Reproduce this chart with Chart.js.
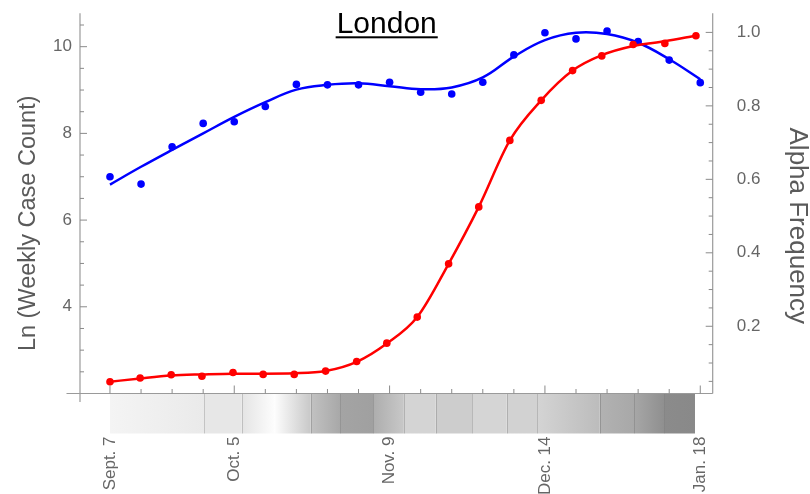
<!DOCTYPE html>
<html>
<head>
<meta charset="utf-8">
<script src="https://cdn.jsdelivr.net/npm/chart.js@4.4.1/dist/chart.umd.min.js"></script>
<style>
  html, body { margin: 0; padding: 0; background: #ffffff; }
  #wrap { width: 810px; height: 494px; position: relative; }
</style>
</head>
<body>
<div id="wrap"><canvas id="chart" width="810" height="494"></canvas></div>
<script>
// Week index: 0 = Sept. 7
const weeks = [0, 1, 2, 3, 4, 5, 6, 7, 8, 9, 10, 11, 12, 13, 14, 15, 16, 17, 18, 19];
// ln(weekly case count), observed and smoothed
const caseLog = [7.00, 6.83, 7.69, 8.23, 8.27, 8.62, 9.13, 9.12, 9.12, 9.18, 8.95, 8.91, 9.18, 9.81, 10.32, 10.18, 10.36, 10.12, 9.69, 9.17];
const caseFit = [6.82, 7.23, 7.62, 8.00, 8.38, 8.72, 9.01, 9.12, 9.155, 9.09, 9.02, 9.06, 9.29, 9.77, 10.15, 10.32, 10.29, 10.09, 9.71, 9.25];
// Alpha variant frequency, observed and fitted
const alphaWeeks = [0, 0.97, 1.97, 2.96, 3.96, 4.93, 5.93, 6.94, 7.94, 8.91, 9.89, 10.9, 11.87, 12.87, 13.88, 14.89, 15.83, 16.84, 17.86, 18.86];
const alphaFreq = [0.049, 0.059, 0.068, 0.064, 0.074, 0.069, 0.069, 0.078, 0.104, 0.154, 0.225, 0.370, 0.525, 0.706, 0.815, 0.896, 0.936, 0.967, 0.970, 0.991];
const alphaFit  = [0.049, 0.058, 0.066, 0.069, 0.071, 0.071, 0.072, 0.078, 0.103, 0.153, 0.225, 0.370, 0.525, 0.706, 0.815, 0.896, 0.938, 0.963, 0.976, 0.991];
// Date ticks
const tickWeeks = [0, 4, 9, 14, 19];
const tickLabels = ['Sept. 7', 'Oct. 5', 'Nov. 9', 'Dec. 14', 'Jan. 18'];
const caseTicks = [4, 6, 8, 10];
const freqTicks = [0.2, 0.4, 0.6, 0.8, 1.0];
// Shaded band under the date axis: segment edges (weeks) and grey levels at each segment's ends
const stripEdges = [0, 3.03, 4.24, 5.3, 6.46, 7.41, 8.47, 9.46, 10.48, 11.66, 12.77, 13.75, 15.76, 16.87, 17.84, 18.83];
const stripFrom  = [244, 231, 228, 253, 194, 164, 173, 212, 205, 213, 210, 212, 178, 167, 139];
const stripTo    = [234, 231, 253, 200, 168, 160, 200, 212, 205, 213, 210, 188, 168, 143, 137];
const stripDividers = [3.03, 4.24, 6.46, 7.41, 8.47, 9.46, 10.48, 11.66, 12.77, 13.75, 15.76, 16.87, 17.84];

const FONT = "'Liberation Sans', Arial, Helvetica, sans-serif";
const grey = v => `rgb(${v},${v},${v})`;
const pts = (xs, ys) => xs.map((x, i) => ({ x, y: ys[i] }));

// keep the plot frame fixed: no extra padding from tick labels
const noPad = s => { s.paddingTop = 0; s.paddingBottom = 0; s.paddingLeft = 0; s.paddingRight = 0; };

const framePlugin = {
  id: 'frame',
  beforeDatasetsDraw(chart) {
    const { ctx, chartArea: a, scales } = chart;
    const x = scales.x, yL = scales.yL, yR = scales.yR;
    ctx.save();
    // band
    const top = a.bottom + 0.5, h = 39.5;
    for (let i = 0; i < stripFrom.length; i++) {
      const x0 = x.getPixelForValue(stripEdges[i]);
      const x1 = x.getPixelForValue(stripEdges[i + 1]);
      const g = ctx.createLinearGradient(x0, 0, x1, 0);
      g.addColorStop(0, grey(stripFrom[i]));
      g.addColorStop(1, grey(stripTo[i]));
      ctx.fillStyle = g;
      ctx.fillRect(x0, top, x1 - x0, h);
    }
    ctx.strokeStyle = 'rgba(0,0,0,0.16)';
    ctx.lineWidth = 1;
    stripDividers.forEach(w => {
      const px = Math.round(x.getPixelForValue(w)) + 0.5;
      ctx.beginPath(); ctx.moveTo(px, top); ctx.lineTo(px, top + h); ctx.stroke();
    });
    // axis lines
    ctx.strokeStyle = '#9a9a9a';
    ctx.lineWidth = 1.2;
    const seg = (x0, y0, x1, y1) => { ctx.beginPath(); ctx.moveTo(x0, y0); ctx.lineTo(x1, y1); ctx.stroke(); };
    seg(a.left, a.top, a.left, a.bottom + 8.5);
    seg(a.left - 13.5, a.bottom, a.right, a.bottom);
    seg(a.right, a.top, a.right, a.bottom);
    // tick marks, pointing inward
    ctx.strokeStyle = '#8a8a8a';
    ctx.lineWidth = 1;
    for (let w = 0; w <= 19; w++) {
      const px = x.getPixelForValue(w);
      const len = tickWeeks.includes(w) ? 8 : 4.5;
      seg(px, a.bottom, px, a.bottom - len);
    }
    for (let k = 5; k <= 21; k++) {
      const v = k / 2;
      const py = yL.getPixelForValue(v);
      const len = caseTicks.includes(v) ? 7 : 4;
      seg(a.left, py, a.left + len, py);
    }
    for (let k = 1; k <= 20; k++) {
      const v = k / 20;
      const py = yR.getPixelForValue(v);
      const len = (k % 4 === 0) ? 7 : 4;
      seg(a.right, py, a.right - len, py);
    }
    ctx.restore();
  },
  afterDraw(chart) {
    const { ctx } = chart;
    ctx.save();
    // title
    ctx.fillStyle = '#000';
    ctx.font = `30px ${FONT}`;
    ctx.textAlign = 'center';
    ctx.textBaseline = 'alphabetic';
    const tw = ctx.measureText('London').width;
    ctx.fillText('London', 386.7, 33.3);
    ctx.fillRect(386.7 - tw / 2 - 1, 36.3, tw + 2, 2);
    // axis titles
    ctx.fillStyle = '#5a5a5a';
    ctx.save();
    ctx.font = `23.5px ${FONT}`;
    ctx.translate(35, 223.3);
    ctx.rotate(-Math.PI / 2);
    ctx.fillText('Ln (Weekly Case Count)', 0, 0);
    ctx.restore();
    ctx.save();
    ctx.font = `26px ${FONT}`;
    ctx.translate(790, 225.8);
    ctx.rotate(Math.PI / 2);
    ctx.fillText('Alpha Frequency', 0, 0);
    ctx.restore();
    ctx.restore();
  }
};

const tickFont = { family: FONT, size: 17 };

new Chart(document.getElementById('chart'), {
  type: 'scatter',
  data: {
    datasets: [
      { label: 'Alpha frequency', data: pts(alphaWeeks, alphaFreq), yAxisID: 'yR',
        showLine: false, pointRadius: 3.8, pointBorderWidth: 0, pointBackgroundColor: '#ff0000' },
      { label: 'Alpha fit', data: pts(alphaWeeks, alphaFit), yAxisID: 'yR',
        showLine: true, borderColor: '#ff0000', borderWidth: 2.5, pointRadius: 0,
        cubicInterpolationMode: 'monotone' },
      { label: 'Cases', data: pts(weeks, caseLog), yAxisID: 'yL',
        showLine: false, pointRadius: 3.8, pointBorderWidth: 0, pointBackgroundColor: '#0000ff' },
      { label: 'Cases fit', data: pts(weeks, caseFit), yAxisID: 'yL',
        showLine: true, borderColor: '#0000ff', borderWidth: 2.5, pointRadius: 0, tension: 0.4 }
    ]
  },
  options: {
    responsive: false,
    animation: false,
    events: [],
    layout: { padding: { top: 13.3, left: 0, right: 0, bottom: 0 }, autoPadding: false },
    plugins: { legend: { display: false }, tooltip: { enabled: false }, title: { display: false } },
    scales: {
      x: {
        type: 'linear', position: 'bottom', min: -0.965, max: 19.4,
        grid: { display: false, drawTicks: false }, border: { display: false },
        afterBuildTicks: s => { s.ticks = tickWeeks.map(v => ({ value: v })); },
        afterFit: s => { s.height = 100.5; noPad(s); },
        ticks: {
          autoSkip: false, minRotation: 90, maxRotation: 90, padding: 43,
          color: '#666666', font: tickFont,
          callback: v => tickLabels[tickWeeks.indexOf(v)]
        }
      },
      yL: {
        type: 'linear', position: 'left', min: 2.0, max: 10.77,
        grid: { display: false, drawTicks: false }, border: { display: false },
        afterBuildTicks: s => { s.ticks = caseTicks.map(v => ({ value: v })); },
        afterFit: s => { s.width = 80; noPad(s); },
        ticks: { padding: 8, color: '#666666', font: tickFont, callback: v => String(v) }
      },
      yR: {
        type: 'linear', position: 'right', min: 0.017, max: 1.052,
        grid: { display: false, drawTicks: false }, border: { display: false },
        afterBuildTicks: s => { s.ticks = freqTicks.map(v => ({ value: v })); },
        afterFit: s => { s.width = 97.3; noPad(s); },
        ticks: { padding: 24, color: '#666666', font: tickFont, callback: v => v.toFixed(1) }
      }
    }
  },
  plugins: [framePlugin]
});
</script>
</body>
</html>
